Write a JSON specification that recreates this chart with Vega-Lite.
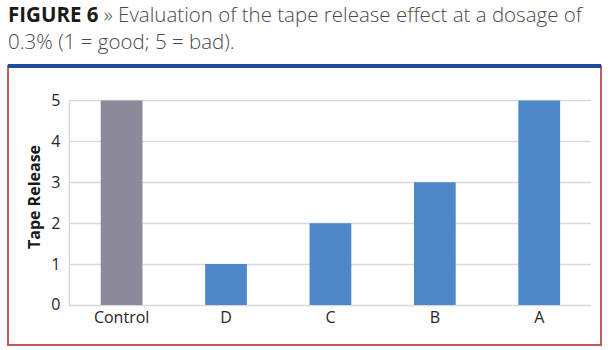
{
  "$schema": "https://vega.github.io/schema/vega-lite/v6.json",
  "width": 593,
  "height": 279,
  "autosize": {"type": "none"},
  "padding": {"left": 8, "top": 66, "right": 14, "bottom": 5},
  "background": "white",
  "title": {
    "text": ["\u200b\u00a0\u00a0\u00a0\u00a0\u00a0\u00a0\u00a0\u00a0\u00a0\u00a0\u00a0\u00a0\u00a0\u00a0\u00a0\u00a0\u00a0\u00a0» Evaluation of the tape release effect at a dosage of", "0.3% (1 = good; 5 = bad)."],
    "subtitle": "FIGURE 6",
    "anchor": "start",
    "frame": "group",
    "font": "Open Sans",
    "fontSize": 20.5,
    "fontWeight": 300,
    "color": "#4a4a4a",
    "lineHeight": 27,
    "subtitleFont": "Open Sans",
    "subtitleFontSize": 20.5,
    "subtitleFontWeight": "bold",
    "subtitleColor": "#1a1a1a",
    "subtitlePadding": -48,
    "offset": 10
  },
  "data": {
    "values": [
      {"cat": "Control", "value": 5},
      {"cat": "D", "value": 1},
      {"cat": "C", "value": 2},
      {"cat": "B", "value": 3},
      {"cat": "A", "value": 5}
    ]
  },
  "layer": [
    {
      "data": {"values": [{}]},
      "mark": {"type": "rule", "color": "#d9d9d9", "strokeWidth": 1.5},
      "encoding": {
        "x": {"datum": "Control", "bandPosition": -0.75},
        "y": {"datum": 0},
        "y2": {"datum": 5}
      }
    },
    {
      "mark": {"type": "bar"},
      "encoding": {
        "x": {
          "field": "cat",
          "type": "nominal",
          "sort": null,
          "scale": {"domain": ["Control", "D", "C", "B", "A"], "paddingInner": 0.6, "paddingOuter": 0.64, "align": 0.694},
          "axis": {
            "title": null,
            "orient": "bottom",
            "offset": -40,
            "domain": false,
            "grid": false,
            "ticks": false,
            "labelAngle": 0,
            "labelAlign": "center",
            "labelBaseline": "top",
            "labelFont": "Open Sans",
            "labelFontSize": 16,
            "labelColor": "#262626",
            "labelPadding": 4
          }
        },
        "y": {
          "field": "value",
          "type": "quantitative",
          "scale": {"domain": [-0.978, 5.8435], "nice": false, "zero": false},
          "axis": {
            "title": "Tape Release",
            "values": [0, 1, 2, 3, 4, 5],
            "offset": -60.5,
            "domain": false,
            "grid": false,
            "ticks": true,
            "tickSize": -522,
            "tickColor": "#d9d9d9",
            "tickWidth": 1.5,
            "labelFont": "Open Sans",
            "labelFontSize": 16,
            "labelColor": "#262626",
            "labelPadding": 530.5,
            "titleFont": "Open Sans",
            "titleFontSize": 16,
            "titleFontWeight": "bold",
            "titleColor": "#1a1a1a",
            "titlePadding": 8,
            "titleY": 130.5
          }
        },
        "color": {
          "field": "cat",
          "type": "nominal",
          "scale": {"domain": ["Control", "D", "C", "B", "A"], "range": ["#8d8a9b", "#4f88c8", "#4f88c8", "#4f88c8", "#4f88c8"]},
          "legend": null
        }
      }
    },
    {
      "data": {"values": [{}]},
      "mark": {"type": "rule", "color": "#1f4e99", "strokeWidth": 4},
      "encoding": {"y": {"datum": 5.8435}}
    }
  ],
  "config": {
    "view": {"stroke": "#c55a5a", "strokeWidth": 2}
  }
}
